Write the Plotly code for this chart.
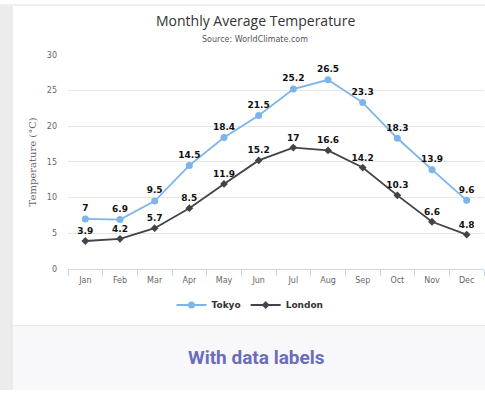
import plotly.graph_objects as go

# Monthly average temperatures (°C)
months = ["Jan", "Feb", "Mar", "Apr", "May", "Jun",
          "Jul", "Aug", "Sep", "Oct", "Nov", "Dec"]
tokyo = [7.0, 6.9, 9.5, 14.5, 18.4, 21.5, 25.2, 26.5, 23.3, 18.3, 13.9, 9.6]
london = [3.9, 4.2, 5.7, 8.5, 11.9, 15.2, 17.0, 16.6, 14.2, 10.3, 6.6, 4.8]
y_ticks = [0, 5, 10, 15, 20, 25, 30]

W, H = 485, 395


def px_x(v):
    return v / W


def px_y(v):
    return 1 - v / H


def label(v):
    return f"{v:g}"


fig = go.Figure()

for name, vals, color, symbol, size in [
    ("Tokyo", tokyo, "#7cb5ec", "circle", 7),
    ("London", london, "#434348", "diamond", 6),
]:
    fig.add_trace(go.Scatter(
        x=months, y=vals, name=name,
        mode="lines+markers+text",
        line=dict(color=color, width=1.8),
        marker=dict(color=color, symbol=symbol, size=size),
        text=[label(v) for v in vals],
        textposition="top center",
        textfont=dict(family="DejaVu Sans", size=9, color="#111", weight="bold"),
        cliponaxis=False,
    ))

shapes = [
    # lower caption panel
    dict(type="rect", xref="paper", yref="paper",
         x0=px_x(12), x1=1, y0=0, y1=px_y(329),
         fillcolor="#f8f8fa", line=dict(width=0), layer="below"),
    dict(type="line", xref="paper", yref="paper",
         x0=px_x(12), x1=1, y0=px_y(329), y1=px_y(329),
         line=dict(color="#e6e6e6", width=1)),
    # page margin strips
    dict(type="rect", xref="paper", yref="paper",
         x0=0, x1=px_x(12), y0=0, y1=1,
         fillcolor="#ececec", line=dict(width=0), layer="below"),
    dict(type="rect", xref="paper", yref="paper",
         x0=0, x1=1, y0=px_y(2), y1=1,
         fillcolor="#efefef", line=dict(width=0), layer="below"),
    dict(type="line", xref="paper", yref="paper",
         x0=px_x(12), x1=px_x(12), y0=0, y1=px_y(2),
         line=dict(color="#e2e2e2", width=1)),
]

annotations = [
    dict(text="Monthly Average Temperature", xref="paper", yref="paper",
         x=px_x(255), y=px_y(17), xanchor="center", yanchor="middle",
         showarrow=False,
         font=dict(family="Open Sans", size=14, color="#333333")),
    dict(text="Source: WorldClimate.com", xref="paper", yref="paper",
         x=px_x(255), y=px_y(36), xanchor="center", yanchor="middle",
         showarrow=False,
         font=dict(family="DejaVu Sans", size=8, color="#555555")),
    dict(text="With data labels", xref="paper", yref="paper",
         x=px_x(256), y=px_y(362), xanchor="center", yanchor="middle",
         showarrow=False,
         font=dict(family="Roboto", size=19, color="#6c6cbc", weight="bold")),
]

fig.update_layout(
    width=W, height=H,
    margin=dict(l=0, r=0, t=0, b=0),
    paper_bgcolor="white", plot_bgcolor="white",
    showlegend=True,
    legend=dict(orientation="h", x=px_x(250), y=px_y(308),
                xanchor="center", yanchor="middle",
                font=dict(family="DejaVu Sans", size=9, color="#333333",
                          weight="bold"),
                itemwidth=30, bgcolor="rgba(0,0,0,0)"),
    shapes=shapes,
    annotations=annotations,
    xaxis=dict(
        domain=[px_x(68), px_x(484)],
        type="category", range=[-0.5, 11.5],
        showgrid=False, showline=True, linecolor="#ccd6eb", linewidth=1,
        ticks="outside", tickson="boundaries", ticklen=6,
        tickcolor="#ccd6eb", ticklabelstandoff=4,
        tickfont=dict(family="DejaVu Sans", size=8, color="#666666"),
        fixedrange=True,
    ),
    yaxis=dict(
        domain=[1 - 271 / H, 1 - 52 / H],
        range=[0, 30], tickvals=y_ticks,
        showgrid=True, gridcolor="#e6e6e6", gridwidth=1,
        zeroline=False, showline=False,
        ticks="", ticklabelstandoff=10,
        tickfont=dict(family="DejaVu Sans", size=8, color="#666666"),
        title=dict(text="Temperature (°C)", standoff=8,
                   font=dict(family="DejaVu Serif", size=10, color="#666666")),
    ),
)

fig.write_html("out.html")
